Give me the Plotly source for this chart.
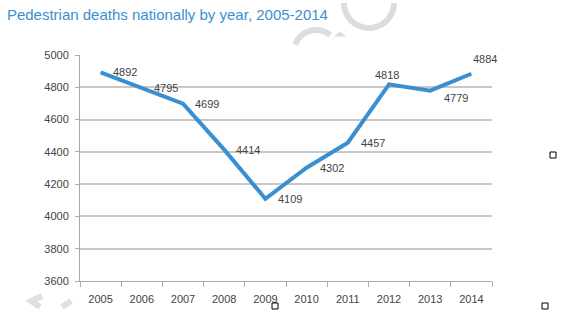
import math
import plotly.graph_objects as go

years = ["2005", "2006", "2007", "2008", "2009", "2010", "2011", "2012", "2013", "2014"]
deaths = [4892, 4795, 4699, 4414, 4109, 4302, 4457, 4818, 4779, 4884]
# label offsets (pixels) relative to each point: (xshift, yshift, xanchor)
label_xshift = [10, 10, 10, 10, 11, 11, 11, -2, 12, 0]
label_yshift = [0, 0, 0, 0, 0, 0, 0, 9, -7, 15]
label_anchor = ["left", "left", "left", "left", "left", "left", "left", "center", "left", "left"]
y_ticks = [3600, 3800, 4000, 4200, 4400, 4600, 4800, 5000]

L, R, T, B, W, H = 80, 83, 55, 47, 575, 328
PW, PH = W - L - R, H - T - B


def px(x):
    return (x - L) / PW


def py(y):
    return (H - B - y) / PH


fig = go.Figure()
fig.add_trace(go.Scatter(
    x=years, y=deaths, mode="lines",
    line=dict(color="#3a8fd0", width=4),
    cliponaxis=False, showlegend=False, hoverinfo="x+y",
))

for i, (v, xs, ys, xa) in enumerate(zip(deaths, label_xshift, label_yshift, label_anchor)):
    fig.add_annotation(x=i, y=v, text=str(v), showarrow=False,
                       xanchor=xa, yanchor="middle", xshift=xs, yshift=ys,
                       font=dict(family="Liberation Sans, Arial", size=11, color="#444444"))

fig.update_layout(
    width=W, height=H,
    margin=dict(l=L, r=R, t=T, b=B),
    paper_bgcolor="white", plot_bgcolor="white",
    title=dict(text="Pedestrian deaths nationally by year, 2005-2014",
               x=0.012, xanchor="left", y=0.955, yanchor="middle",
               font=dict(family="Liberation Sans, Arial", size=15, color="#3a8fd0")),
    font=dict(family="Liberation Sans, Arial", size=11, color="#444444"),
    xaxis=dict(type="category", categoryarray=years, range=[-0.5, 9.5],
               tickson="boundaries", ticks="outside", ticklen=5,
               tickcolor="#aaaaaa", showline=True, linecolor="#aaaaaa", linewidth=1,
               showgrid=False, ticklabelstandoff=8, tickfont=dict(size=11, color="#444444")),
    yaxis=dict(range=[3600, 5000], tickvals=y_ticks, ticks="outside", ticklen=4,
               tickcolor="#aaaaaa", showline=True, linecolor="#aaaaaa", linewidth=1,
               showgrid=True, gridcolor="#c8c8c8", gridwidth=1.5, zeroline=False,
               ticklabelstandoff=4, tickfont=dict(size=11, color="#444444")),
)


def arc_path(cx, cy, r, a0, a1, n=24):
    pts = []
    for k in range(n + 1):
        a = math.radians(a0 + (a1 - a0) * k / n)
        pts.append((px(cx + r * math.cos(a)), py(cy + r * math.sin(a))))
    return "M " + " L ".join(f"{x:.4f} {y:.4f}" for x, y in pts)


# decorative watermark arcs (screen coords, y down)
fig.add_shape(type="path", xref="paper", yref="paper", layer="below",
              path=arc_path(369, 3, 25, 0, 180), line=dict(color="#dcdcdc", width=6))
fig.add_shape(type="path", xref="paper", yref="paper", layer="below",
              path=arc_path(316, 52, 22, 200, 310), line=dict(color="#dcdcdc", width=6))
fig.add_shape(type="path", xref="paper", yref="paper", layer="below",
              path=f"M {px(335):.4f} {py(36):.4f} L {px(340):.4f} {py(32):.4f} L {px(345):.4f} {py(36):.4f} Z",
              line=dict(color="#dcdcdc", width=1), fillcolor="#dcdcdc")
fig.add_shape(type="path", xref="paper", yref="paper", layer="below",
              path=f"M {px(42):.4f} {py(296):.4f} L {px(31):.4f} {py(301):.4f} L {px(40):.4f} {py(307):.4f}",
              line=dict(color="#e0e0e0", width=6))
fig.add_shape(type="path", xref="paper", yref="paper", layer="below",
              path=f"M {px(62):.4f} {py(307):.4f} L {px(71):.4f} {py(301):.4f}",
              line=dict(color="#e0e0e0", width=6))

# small marker squares
for (sx, sy) in [(553, 155), (275, 306), (545, 306)]:
    fig.add_shape(type="rect", xref="paper", yref="paper",
                  x0=px(sx - 3), x1=px(sx + 3), y0=py(sy + 3), y1=py(sy - 3),
                  line=dict(color="black", width=1), fillcolor="white")

fig.write_html("out.html")
